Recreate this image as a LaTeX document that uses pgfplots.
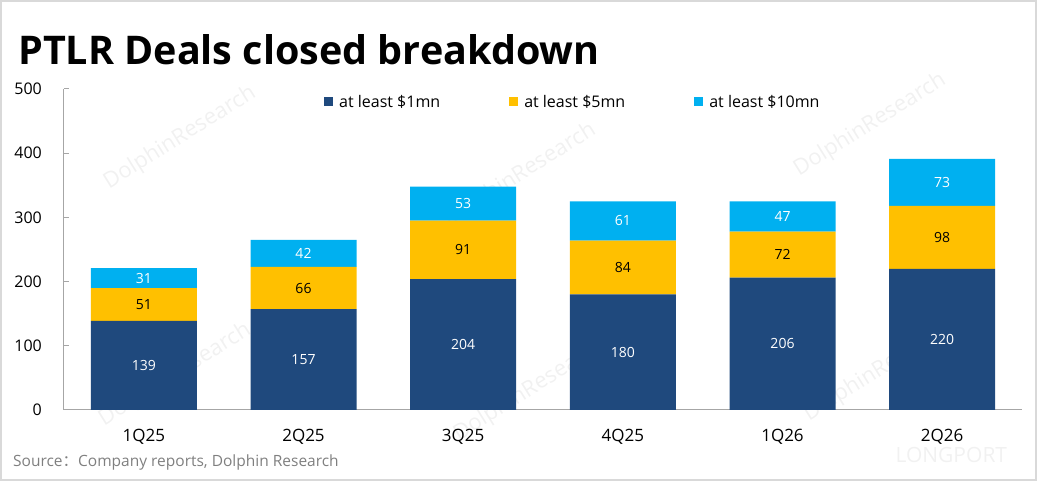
\documentclass[border=0pt]{standalone}
\usepackage{pgfplots}
\pgfplotsset{compat=1.18}
\usepackage{pgfplotstable}
\usepackage{fontspec}
\setmainfont{Open Sans}
\newfontfamily\cjk{Noto Sans CJK SC}
\definecolor{cdark}{HTML}{1F497D}
\definecolor{cyel}{HTML}{FFC000}
\definecolor{clight}{HTML}{00B0F0}
\definecolor{axgray}{HTML}{A6A6A6}
\definecolor{srcgray}{HTML}{7F7F7F}
\definecolor{wm}{HTML}{F1F1F1}
\pgfplotstableread{
x a b c
0 139 51 31
1 157 66 42
2 204 91 53
3 180 84 61
4 206 72 47
5 220 98 73
}\deals
\begin{document}
\begin{tikzpicture}[x=1pt,y=1pt]
% frame and bounding box (1px = 1pt; origin = axis lower-left at pixel (64,410))
\path[use as bounding box] (-64,-71) rectangle (973,410);
\draw[black!15, line width=1.5pt] (-63.2,-70.2) rectangle (972.2,409.2);
% faint watermarks
\foreach \px/\py in {180/138, 520/175, 870/125, 175/375, 530/390, 880/370}{
  \node[wm, rotate=32, font=\fontsize{22}{26}\selectfont] at (\px-64, 410-\py) {DolphinResearch};
}
\node[wm, font=\fontsize{21}{24}\selectfont, anchor=west] at (892-64, 410-455) {LONGPORT};
\begin{axis}[
  at={(0,0)}, anchor=south west,
  scale only axis, width=958pt, height=321pt,
  ybar stacked, bar width=106pt,
  xmin=-0.5, xmax=5.5, ymin=0, ymax=500,
  xtick={0,...,5},
  xticklabels={1Q25,2Q25,3Q25,4Q25,1Q26,2Q26},
  ytick={0,100,...,500},
  axis x line*=bottom, axis y line*=left,
  axis line style={axgray, line width=1pt},
  xtick style={draw=none},
  ytick style={draw=axgray, line width=1pt},
  major tick length=5pt, tick align=inside,
  /pgf/number format/assume math mode=true,
  yticklabel style={font=\fontsize{16}{19}\selectfont, anchor=east, inner sep=0pt, xshift=-22pt},
  xticklabel style={font=\fontsize{17}{20}\selectfont, anchor=base, inner sep=0pt, yshift=-32pt},
  legend style={at={(rel axis cs:0.2714,0.9595)}, anchor=west, draw=none, fill=none,
    font=\fontsize{16}{19}\selectfont, inner sep=0pt, legend columns=3,
    /tikz/every odd column/.append style={column sep=4pt},
    /tikz/every even column/.append style={column sep=67pt}},
  legend cell align=left,
]
\addplot[fill=cdark, draw=none, legend image code/.code={\fill[cdark] (0pt,-4.5pt) rectangle (9pt,4.5pt);}] table[x=x,y=a]{\deals};
\addlegendentry{at least \$1mn}
\addplot[fill=cyel, draw=none, legend image code/.code={\fill[cyel] (0pt,-4.5pt) rectangle (9pt,4.5pt);}] table[x=x,y=b]{\deals};
\addlegendentry{at least \$5mn}
\addplot[fill=clight, draw=none, legend image code/.code={\fill[clight] (0pt,-4.5pt) rectangle (9pt,4.5pt);}] table[x=x,y=c]{\deals};
\addlegendentry{at least \$10mn}
\end{axis}
% data labels at segment centres, through a matching axis
\begin{axis}[
  at={(0,0)}, anchor=south west,
  scale only axis, width=958pt, height=321pt,
  xmin=-0.5, xmax=5.5, ymin=0, ymax=500,
  hide axis, clip=false,
  /pgf/number format/assume math mode=true,
  nodes near coords, point meta=explicit,
  nodes near coords style={anchor=center, font=\fontsize{14}{17}\selectfont, inner sep=0pt},
]
\addplot[only marks, mark=none, nodes near coords style={text=white}]
  table[x=x, y expr=\thisrow{a}/2, meta=a]{\deals};
\addplot[only marks, mark=none, nodes near coords style={text=black}]
  table[x=x, y expr=\thisrow{a}+\thisrow{b}/2, meta=b]{\deals};
\addplot[only marks, mark=none, nodes near coords style={text=white}]
  table[x=x, y expr=\thisrow{a}+\thisrow{b}+\thisrow{c}/2, meta=c]{\deals};
\end{axis}
% title and source
\node[anchor=base west, inner sep=0pt, font=\fontsize{39.5}{45}\selectfont\bfseries] at (-46,345) {PTLR Deals closed breakdown};
\node[anchor=base west, inner sep=0pt, text=srcgray, font=\fontsize{15.5}{18}\selectfont] at (-51,-57) {Source{\cjk ：}Company reports, Dolphin Research};
\end{tikzpicture}
\end{document}
